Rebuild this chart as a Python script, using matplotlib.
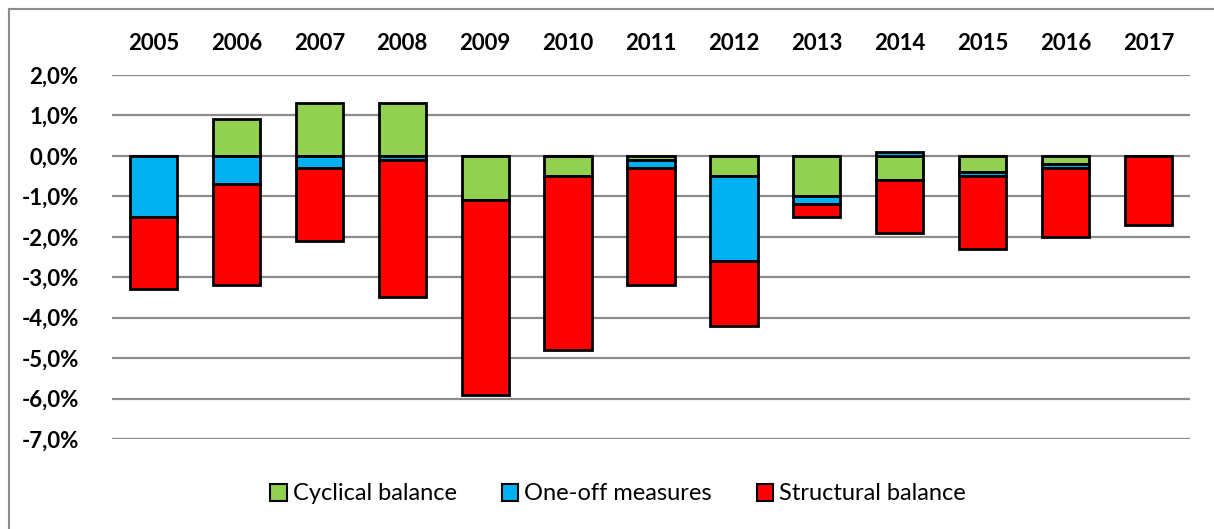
import matplotlib
matplotlib.use("Agg")
import matplotlib.pyplot as plt
from matplotlib.lines import Line2D
import numpy as np

years = ["2005", "2006", "2007", "2008", "2009", "2010", "2011", "2012",
         "2013", "2014", "2015", "2016", "2017"]
cyclical = [0.0, 0.9, 1.3, 1.3, -1.1, -0.5, -0.1, -0.5, -1.0, -0.6, -0.4, -0.2, 0.0]
one_off = [-1.5, -0.7, -0.3, -0.1, 0.0, 0.0, -0.2, -2.1, -0.2, 0.1, -0.1, -0.1, 0.0]
structural = [-1.8, -2.5, -1.8, -3.4, -4.8, -4.3, -2.9, -1.6, -0.3, -1.3, -1.8, -1.7, -1.7]
yticks = [2, 1, 0, -1, -2, -3, -4, -5, -6, -7]
ytick_labels = ["2,0%", "1,0%", "0,0%", "-1,0%", "-2,0%", "-3,0%", "-4,0%", "-5,0%", "-6,0%", "-7,0%"]
series_names = ["Cyclical balance", "One-off measures", "Structural balance"]
colors = ["#92d050", "#00b0f0", "#ff0000"]

plt.rcParams['font.family'] = ['Lato', 'DejaVu Sans']

fig = plt.figure(figsize=(12.14, 5.29), dpi=100)
ax = fig.add_axes([112/1214, 1-439/529, (1190-112)/1214, (439-75)/529])

x = np.arange(len(years))
pos_base = np.zeros(len(years))
neg_base = np.zeros(len(years))
for vals, col, name in zip([cyclical, one_off, structural], colors, series_names):
    v = np.array(vals)
    bottoms = np.where(v >= 0, pos_base, neg_base)
    ax.bar(x, v, bottom=bottoms, width=0.57, color=col, edgecolor="black",
           linewidth=2, label=name, zorder=3)
    pos_base = pos_base + np.where(v > 0, v, 0)
    neg_base = neg_base + np.where(v < 0, v, 0)

ax.set_xlim(-0.5, len(years) - 0.5)
ax.set_ylim(-7, 2)
ax.set_yticks(yticks)
ax.set_yticklabels(ytick_labels, fontsize=16, fontweight='bold')
ax.yaxis.grid(True, color="#8c8c8c", linewidth=1.6, zorder=0)
ax.set_axisbelow(True)
ax.xaxis.tick_top()
ax.set_xticks(x)
ax.set_xticklabels(years, fontsize=16, fontweight='bold')
ax.tick_params(axis='both', length=0)
ax.tick_params(axis='x', pad=15)
ax.tick_params(axis='y', pad=24)
for s in ax.spines.values():
    s.set_visible(False)

leg = fig.legend(loc='center', bbox_to_anchor=(618/1214, 1-494/529), ncol=3,
                 frameon=False, fontsize=17, handlelength=0.7, handleheight=0.7,
                 handletextpad=0.25, columnspacing=1.9)
for h in leg.legend_handles:
    h.set_linewidth(1.5)

# frame of the chart area: only top and left edges are visible
fig.add_artist(Line2D([9/1214, 9/1214], [0, 1-9/529], transform=fig.transFigure,
                      color="#8c8c8c", linewidth=1.5))
fig.add_artist(Line2D([9/1214, 1], [1-9/529, 1-9/529], transform=fig.transFigure,
                      color="#8c8c8c", linewidth=1.5))

fig.savefig("out.png", dpi=100, facecolor="white")
